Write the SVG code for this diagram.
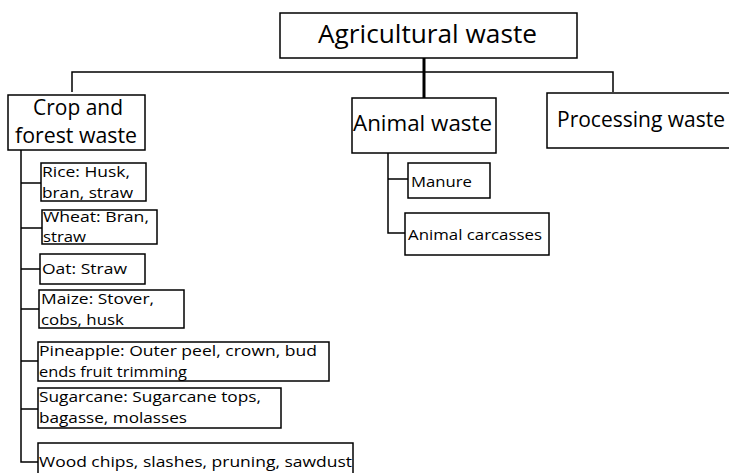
<svg xmlns="http://www.w3.org/2000/svg" width="729" height="473" viewBox="0 0 729 473">
  <style>
    .box { fill: #ffffff; stroke: #000000; stroke-width: 1.5; }
    .link { fill: none; stroke: #000000; stroke-width: 1.5; }
    .stem { fill: none; stroke: #000000; stroke-width: 3; }
    text { font-family: "Open Sans", "Noto Sans", sans-serif; fill: #000000; }
    .t1 { font-size: 25px; }
    .t2 { font-size: 21px; }
    .t3 { font-size: 15px; }
  </style>
  <rect width="729" height="473" fill="#ffffff"/>

  <!-- connectors -->
  <g id="connectors">
    <path class="stem" d="M424,58 V98"/>
    <path class="link" d="M72,92 V72 H613 V92"/>
    <path class="link" d="M21,150 V462 H38"/>
    <path class="link" d="M21,183 H41 M21,228 H42 M21,269 H40 M21,309 H39 M21,361 H38 M21,409 H38"/>
    <path class="link" d="M388,153 V233 H405 M388,179 H408"/>
  </g>

  <g id="agricultural-waste">
    <rect class="box" x="280" y="13" width="297" height="45"/>
    <text class="t1" x="318" y="43" textLength="219" lengthAdjust="spacingAndGlyphs">Agricultural waste</text>
  </g>

  <g id="crop-forest-waste">
    <rect class="box" x="8" y="95" width="137" height="55"/>
    <text class="t2" x="33" y="115" textLength="90" lengthAdjust="spacingAndGlyphs">Crop and</text>
    <text class="t2" x="15" y="143" textLength="122" lengthAdjust="spacingAndGlyphs">forest waste</text>
  </g>

  <g id="animal-waste">
    <rect class="box" x="352" y="98" width="144" height="55"/>
    <text class="t2" x="353" y="131" textLength="139" lengthAdjust="spacingAndGlyphs">Animal waste</text>
  </g>

  <g id="processing-waste">
    <path class="box" d="M731,93 H547 V148 H731"/>
    <text class="t2" x="557" y="127" textLength="168" lengthAdjust="spacingAndGlyphs">Processing waste</text>
  </g>

  <g id="manure">
    <rect class="box" x="408" y="163" width="82" height="35"/>
    <text class="t3" x="411" y="187" textLength="61" lengthAdjust="spacingAndGlyphs">Manure</text>
  </g>

  <g id="animal-carcasses">
    <rect class="box" x="405" y="213" width="144" height="42"/>
    <text class="t3" x="408" y="240" textLength="134" lengthAdjust="spacingAndGlyphs">Animal carcasses</text>
  </g>

  <g id="rice">
    <rect class="box" x="41" y="163" width="105" height="38"/>
    <text class="t3" x="42" y="177" textLength="88" lengthAdjust="spacingAndGlyphs">Rice: Husk,</text>
    <text class="t3" x="42" y="198" textLength="91" lengthAdjust="spacingAndGlyphs">bran, straw</text>
  </g>

  <g id="wheat">
    <rect class="box" x="42" y="210" width="115" height="34"/>
    <text class="t3" x="43" y="222" textLength="106" lengthAdjust="spacingAndGlyphs">Wheat: Bran,</text>
    <text class="t3" x="43" y="242" textLength="43" lengthAdjust="spacingAndGlyphs">straw</text>
  </g>

  <g id="oat">
    <rect class="box" x="40" y="254" width="105" height="30"/>
    <text class="t3" x="42" y="274" textLength="85" lengthAdjust="spacingAndGlyphs">Oat: Straw</text>
  </g>

  <g id="maize">
    <rect class="box" x="39" y="290" width="145" height="38"/>
    <text class="t3" x="41" y="304" textLength="113" lengthAdjust="spacingAndGlyphs">Maize: Stover,</text>
    <text class="t3" x="41" y="325" textLength="83" lengthAdjust="spacingAndGlyphs">cobs, husk</text>
  </g>

  <g id="pineapple">
    <rect class="box" x="38" y="342" width="291" height="39"/>
    <text class="t3" x="39" y="356" textLength="278" lengthAdjust="spacingAndGlyphs">Pineapple: Outer peel, crown, bud</text>
    <text class="t3" x="39" y="377" textLength="148" lengthAdjust="spacingAndGlyphs">ends fruit trimming</text>
  </g>

  <g id="sugarcane">
    <rect class="box" x="38" y="388" width="243" height="40"/>
    <text class="t3" x="39" y="402" textLength="222" lengthAdjust="spacingAndGlyphs">Sugarcane: Sugarcane tops,</text>
    <text class="t3" x="39" y="423" textLength="148" lengthAdjust="spacingAndGlyphs">bagasse, molasses</text>
  </g>

  <g id="wood-chips">
    <rect class="box" x="38" y="443" width="315" height="40"/>
    <text class="t3" x="39" y="467" textLength="313" lengthAdjust="spacingAndGlyphs">Wood chips, slashes, pruning, sawdust</text>
  </g>
</svg>
